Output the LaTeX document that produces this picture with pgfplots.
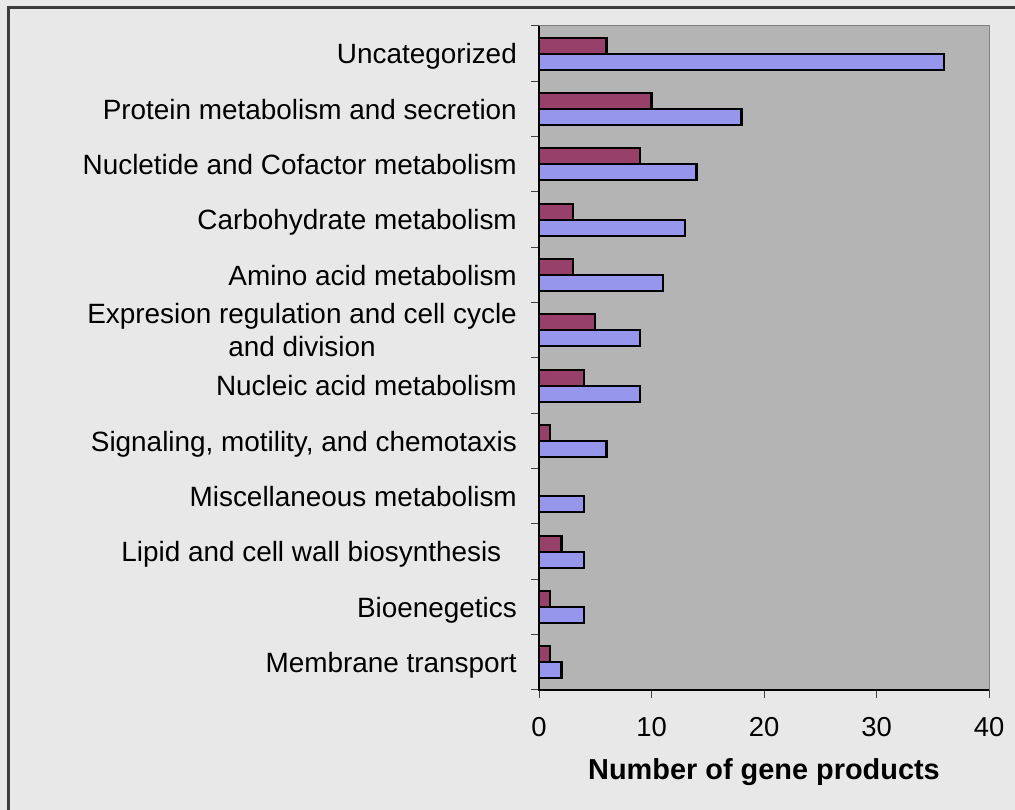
\documentclass[border=0pt]{standalone}
\usepackage{pgfplots}
\pgfplotsset{compat=1.18}
\usepackage{fontspec}
\setmainfont{Liberation Sans}

\definecolor{outerbg}{RGB}{232,232,232}
\definecolor{plotbg}{RGB}{180,180,180}
\definecolor{plotedge}{RGB}{128,128,128}
\definecolor{framecol}{RGB}{60,60,60}
\definecolor{barmaroon}{RGB}{150,64,106}
\definecolor{barblue}{RGB}{150,150,236}

\begin{document}
\begin{tikzpicture}[x=1bp,y=1bp]
\useasboundingbox (0,0) rectangle (1015,810);
\fill[outerbg] (0,0) rectangle (1015,810);
\draw[framecol, line width=2.2bp] (8.5,-2) -- (8.5,802.5) -- (1020,802.5);

\begin{axis}[
  at={(539bp,120bp)}, anchor=south west,
  scale only axis,
  width=450bp, height=664bp,
  xmin=0, xmax=40,
  ymin=-0.5, ymax=11.5,
  xbar, bar width=16bp,
  axis background/.style={fill=plotbg},
  axis line style={draw=plotedge, line width=1bp},
  xtick={0,10,20,30,40},
  ytick={0,...,11},
  minor ytick={-0.5,0.5,...,11.5},
  tick align=outside,
  major tick length=8bp,
  minor tick length=8bp,
  ytick style={draw=none},
  minor y tick style={draw=black!75, line width=1bp, draw},
  xtick style={draw=black!75, line width=1bp},
  xtick pos=bottom, ytick pos=left,
  yticklabels={Membrane transport, Bioenegetics, Lipid and cell wall biosynthesis\ \ ,
    Miscellaneous metabolism, {Signaling, motility, and chemotaxis},
    Nucleic acid metabolism, {Expresion regulation and cell cycle\\and division},
    Amino acid metabolism, Carbohydrate metabolism,
    Nucletide and Cofactor metabolism, Protein metabolism and secretion, Uncategorized},
  yticklabel style={font=\fontsize{28}{33}\selectfont, align=center, anchor=east,
    text depth=0pt, inner sep=0pt, xshift=-14bp},
  xticklabel style={font=\fontsize{27.5}{33}\selectfont, inner sep=0pt, anchor=north,
    yshift=-19bp},
  /pgf/number format/assume math mode=true,
  xlabel={\textbf{Number of gene products}},
  xlabel style={font=\fontsize{29}{34}\selectfont, at={(axis description cs:0.5,0)},
    anchor=center, yshift=-82bp},
  clip=false,
]
\addplot[fill=barblue, draw=black, line width=2.2bp, bar shift=-8bp] coordinates {
  (2,0) (4,1) (4,2) (4,3) (6,4) (9,5) (9,6) (11,7) (13,8) (14,9) (18,10) (36,11)};
\addplot[fill=barmaroon, draw=black, line width=2.2bp, bar shift=8bp] coordinates {
  (1,0) (1,1) (2,2) (0,3) (1,4) (4,5) (5,6) (3,7) (3,8) (9,9) (10,10) (6,11)};
\draw[black, line width=1.2bp] (rel axis cs:0,1) -- (rel axis cs:0,0) -- (rel axis cs:1,0);
\end{axis}
\end{tikzpicture}
\end{document}
